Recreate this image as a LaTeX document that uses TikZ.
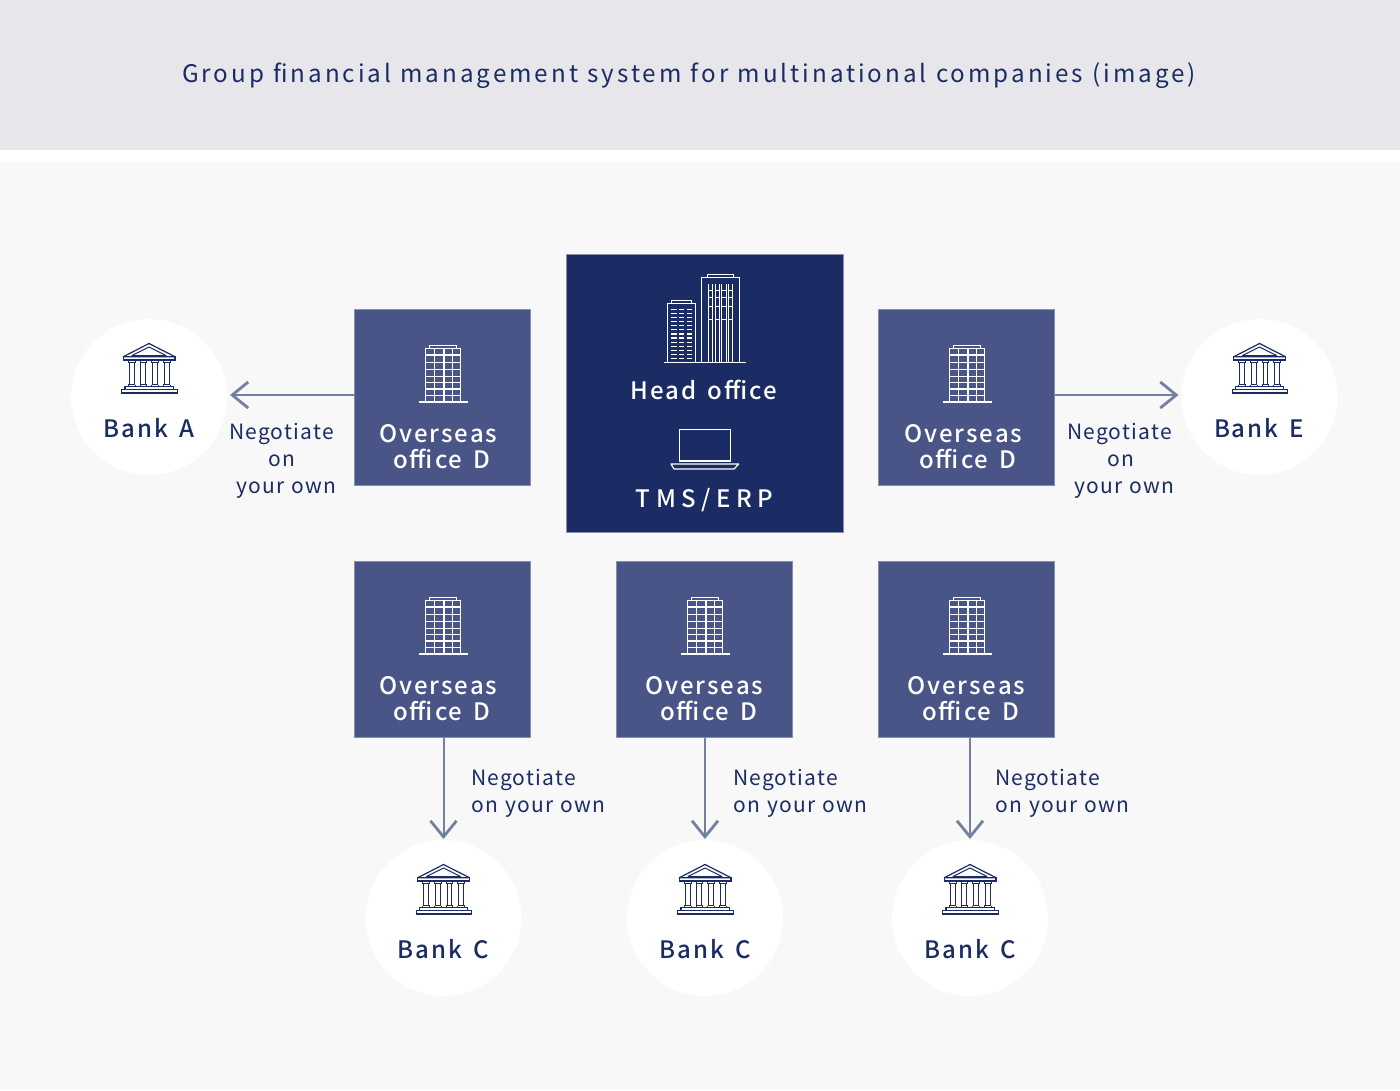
\documentclass[tikz,border=0pt]{standalone}
\usepackage{fontspec}
\setmainfont{Noto Sans CJK JP}
\newfontfamily\ttlfont[LetterSpace=12.3,WordSpace=1.1]{Noto Sans CJK JP}
\newfontfamily\medfont[LetterSpace=8.2,WordSpace=1.5]{Noto Sans CJK JP Medium}
\newfontfamily\sysfont[LetterSpace=23]{Noto Sans CJK JP Medium}
\newfontfamily\negfont[LetterSpace=5.8,WordSpace=1.2]{Noto Sans CJK JP}
\usetikzlibrary{arrows.meta,calc}
\definecolor{navy}{HTML}{1A2C63}
\definecolor{officeblue}{HTML}{485586}
\definecolor{edgeblue}{HTML}{8490AE}
\definecolor{arrowblue}{HTML}{7480A0}
\definecolor{topgrey}{HTML}{E6E6EB}
\definecolor{panelgrey}{HTML}{F8F8F8}
\tikzset{
  officebox/.style={draw=edgeblue,line width=0.6pt,fill=officeblue,minimum size=176.6pt,inner sep=0pt,outer sep=0pt},
  hqbox/.style={draw=edgeblue,line width=0.6pt,fill=navy,minimum size=277.6pt,inner sep=0pt,outer sep=0pt},
  bankdisc/.style={circle,fill=white,minimum size=156pt,inner sep=0pt,outer sep=0pt},
  whitetxt/.style={text=white,font=\medfont\fontsize{24}{26}\selectfont,inner sep=0pt},
  officetxt/.style={whitetxt,align=left,anchor=west},
  banktxt/.style={text=navy,font=\medfont\fontsize{24}{26}\selectfont,inner sep=0pt},
  negtxt/.style={text=navy,font=\negfont\fontsize{21}{27}\selectfont,inner sep=0pt,align=left,anchor=west},
  flow/.style={draw=arrowblue,line width=2pt,-{Straight Barb[length=16pt,width=26pt,line width=2.8pt]}},
  pics/smallbuilding/.style={code={
    \draw[white,line width=1.6pt] (-24.7,28) -- (24.7,28);
    \draw[white,line width=1.5pt] (-17.5,28) rectangle (17.5,-25.7);
    \draw[white,line width=1.2pt] (-14,-25.7) rectangle (13.5,-28.3);
    \foreach \vx in {-8.5,0.7,9.3}{\draw[white,line width=1.4pt] (\vx,-25.7) -- (\vx,28);}
    \foreach \hy in {-19,-11.7,-4.7,2.3,8.7,15,21.7}{\draw[white,line width=1.3pt] (-17.5,\hy) -- (17.5,\hy);}
  }},
  pics/bankicon/.style={code={
    \draw[navy,line width=1.2pt,line join=round] (-25.7,-11.3) -- (0,-24.5) -- (26,-11.3) -- cycle;
    \draw[navy,line width=1pt,line join=round] (-17,-12.5) -- (0,-21) -- (17,-12.5) -- cycle;
    \draw[navy,line width=1.2pt] (-25.7,-11.3) rectangle (26,-8);
    \foreach \cx in {-17.3,-5.7,6,17.7}{\draw[navy,line width=1pt] (\cx-3.3,-5.5) -- (\cx+3.3,-5.5) (\cx-2.4,-5.5) -- (\cx-2.4,16.5) (\cx+2.4,-5.5) -- (\cx+2.4,16.5) (\cx-3.3,16.5) -- (\cx+3.3,16.5) (\cx-3.3,-5.5) -- (\cx-3.3,-8) (\cx+3.3,-5.5) -- (\cx+3.3,-8) (\cx-3.3,16.5) -- (\cx-3.3,18.7) (\cx+3.3,16.5) -- (\cx+3.3,18.7);}
    \draw[navy,line width=1.2pt] (-24,18.7) rectangle (24.3,21.3);
    \draw[navy,line width=1.2pt] (-27.3,21.3) rectangle (28.3,25);
  }},
  pics/towers/.style={code={
    \draw[white,line width=1.5pt] (664,362.7) -- (745.7,362.7);
    \draw[white,line width=1.4pt] (667.7,362.7) rectangle (695.3,303.3);
    \draw[white,line width=1.2pt] (671.7,303.3) rectangle (691.7,300.3);
    \foreach \ry in {309.3,313.4,317.5,321.6,325.7,329.8,333.9,338,342.1,346.2,350.3,354.4,358.5}{
      \draw[white,line width=1.2pt] (670.7,\ry) -- (676.7,\ry) (679,\ry) -- (684.3,\ry) (686.7,\ry) -- (692.3,\ry);}
    \draw[white,line width=1.4pt] (701.7,362.7) rectangle (739.3,277.3);
    \draw[white,line width=1.2pt] (707.7,277.3) rectangle (733.3,274.3);
    \foreach \vx in {708.3,712.7,715,719.3,721.7,726,728.3,732.7}{\draw[white,line width=1pt] (\vx,284) -- (\vx,362);}
    \foreach \ry in {290,297,306,319}{
      \draw[white,line width=1pt] (708.3,\ry) -- (712.7,\ry) (715,\ry) -- (719.3,\ry) (721.7,\ry) -- (726,\ry) (728.3,\ry) -- (732.7,\ry);}
  }},
  pics/laptop/.style={code={
    \draw[white,line width=1.4pt] (679.3,429.3) rectangle (730.3,461);
    \draw[white,line width=1.2pt,line join=round] (671,464) -- (738.7,464) -- (734,469) -- (674,469) -- cycle;
  }},
}
\newcommand{\ofctext}[1]{Overseas\\\hspace{#1pt}office D}
\begin{document}
\begin{tikzpicture}[x=1pt,y=-1pt]
\useasboundingbox (0,0) rectangle (1400,1090);
\fill[white] (0,0) rectangle (1400,1090);
\fill[topgrey] (0,0) rectangle (1400,150);
\fill[panelgrey] (0,162) rectangle (1400,1089);
\node[text=navy,inner sep=0pt,font=\ttlfont\fontsize{24.2}{28}\selectfont] (title) at (689,76) {Group financial management system for multinational companies (image)};

% head office
\node[hqbox] (hq) at (704.8,393.3) {};
\pic at (0,0) {towers};
\pic at (0,0) {laptop};
\node[whitetxt] (hqname) at (704,390) {Head office};
\node[whitetxt,font=\sysfont\fontsize{24}{26}\selectfont] (hqsys) at (704.5,500) {TMS/ERP};

% offices
\node[officebox] (oa) at (442.4,397.4) {};
\node[officebox] (oe) at (966.4,397.4) {};
\node[officebox] (o1) at (442.4,649.4) {};
\node[officebox] (o2) at (704.4,649.4) {};
\node[officebox] (o3) at (966.4,649.4) {};
\pic at (443.2,374) {smallbuilding};
\pic at (967.2,374) {smallbuilding};
\pic at (443.2,626) {smallbuilding};
\pic at (705.2,626) {smallbuilding};
\pic at (967.2,626) {smallbuilding};
\node[officetxt] (oat) at (379,446.8) {\ofctext{14}};
\node[officetxt] (oet) at (904,446.8) {\ofctext{15}};
\node[officetxt] (o1t) at (379,698.5) {\ofctext{14}};
\node[officetxt] (o2t) at (645,698.5) {\ofctext{15}};
\node[officetxt] (o3t) at (907,698.5) {\ofctext{15}};

% banks
\node[bankdisc] (ba) at (149,397) {};
\node[bankdisc] (be) at (1259.5,397) {};
\node[bankdisc] (b1) at (443.5,918) {};
\node[bankdisc] (b2) at (705,918) {};
\node[bankdisc] (b3) at (970,918) {};
\pic at (149,368) {bankicon};
\pic at (1259.5,368) {bankicon};
\pic at (443.5,889) {bankicon};
\pic at (705,889) {bankicon};
\pic at (970,889) {bankicon};
\node[banktxt] (bat) at (149,428) {Bank A};
\node[banktxt] (bet) at (1259,428) {Bank E};
\node[banktxt] (b1t) at (443,949) {Bank C};
\node[banktxt] (b2t) at (705,949) {Bank C};
\node[banktxt] (b3t) at (970,949) {Bank C};

% connectors
\draw[flow,shorten >=3pt] ($(oa.west)+(0,-2.4)$) -- ($(ba.east)+(0,-2)$);
\draw[flow,shorten >=3pt] ($(oe.east)+(0,-2.4)$) -- ($(be.west)+(0,-2)$);
\draw[flow,shorten >=1pt] (o1.south -| b1.north) -- (b1.north);
\draw[flow,shorten >=1pt] (o2.south -| b2.north) -- (b2.north);
\draw[flow,shorten >=1pt] (o3.south -| b3.north) -- (b3.north);

% negotiate labels
\node[negtxt] (na) at (229,461) {Negotiate\\\hspace{39pt}on\\\hspace{7pt}your own};
\node[negtxt] (ne) at (1067,461) {Negotiate\\\hspace{40pt}on\\\hspace{7pt}your own};
\node[negtxt] (n1) at (471,793.5) {Negotiate\\on your own};
\node[negtxt] (n2) at (733,793.5) {Negotiate\\on your own};
\node[negtxt] (n3) at (995,793.5) {Negotiate\\on your own};
\end{tikzpicture}
\end{document}
